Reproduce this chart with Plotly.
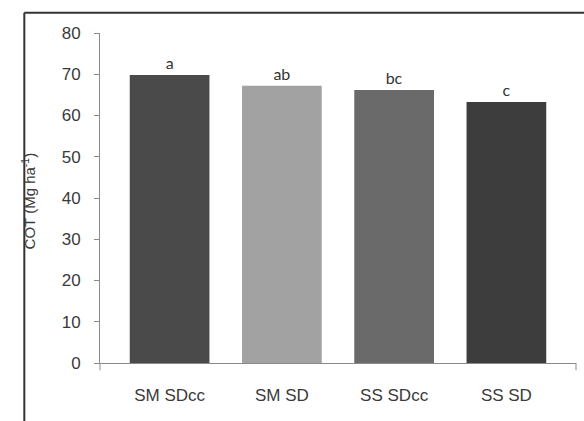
import plotly.graph_objects as go

# Treatments, mean COT and significance letters
treatments = ["SM SDcc", "SM SD", "SS SDcc", "SS SD"]
cot_values = [69.8, 67.2, 66.2, 63.3]
letters = ["a", "ab", "bc", "c"]
bar_colors = ["#4a4a4a", "#a2a2a2", "#6a6a6a", "#3d3d3d"]

y_ticks = [0, 10, 20, 30, 40, 50, 60, 70, 80]
y_title = "COT (Mg ha<sup>-1</sup>)"

fig = go.Figure()
fig.add_trace(go.Bar(
    x=treatments,
    y=cot_values,
    marker=dict(color=bar_colors, line=dict(width=0)),
    width=0.71,
    text=letters,
    textposition="outside",
    textfont=dict(family="Lato", size=16, color="#333333"),
    cliponaxis=False,
    showlegend=False,
))

axis_col = "#8a8a8a"
text_col = "#3a3a3a"
fig.update_layout(
    width=584,
    height=421,
    margin=dict(l=100, r=8, t=33, b=58, autoexpand=False),
    paper_bgcolor="white",
    plot_bgcolor="white",
    xaxis=dict(
        type="category",
        range=[-0.62, 3.62],
        showline=True,
        linecolor=axis_col,
        linewidth=1,
        ticks="",
        ticklabelstandoff=17,
        tickfont=dict(family="Liberation Sans", size=17, color=text_col),
        showgrid=False,
        zeroline=False,
    ),
    yaxis=dict(
        range=[0, 80],
        tickvals=y_ticks,
        showline=True,
        linecolor=axis_col,
        linewidth=1,
        ticks="outside",
        ticklen=5,
        tickcolor=axis_col,
        ticklabelstandoff=10,
        tickfont=dict(family="Liberation Sans", size=17, color=text_col),
        showgrid=False,
        zeroline=False,
    ),
    annotations=[
        # vertical axis title
        dict(text=y_title, xref="paper", yref="paper", x=-0.151, y=0.49,
             xanchor="center", yanchor="middle", textangle=-90, showarrow=False,
             font=dict(family="Liberation Sans", size=15, color=text_col)),
    ],
    shapes=[
        # end ticks of the category axis
        dict(type="line", xref="x domain", yref="paper", x0=0, x1=0, y0=0, y1=-0.022,
             line=dict(color=axis_col, width=1)),
        dict(type="line", xref="x domain", yref="paper", x0=1, x1=1, y0=0, y1=-0.022,
             line=dict(color=axis_col, width=1)),
        # chart frame (top and left edges)
        dict(type="line", xref="paper", yref="paper", x0=-0.159, x1=1.02, y0=1.061, y1=1.061,
             line=dict(color="#333333", width=2)),
        dict(type="line", xref="paper", yref="paper", x0=-0.159, x1=-0.159, y0=1.061, y1=-0.2,
             line=dict(color="#333333", width=2)),
    ],
)

fig.write_html("out.html")
